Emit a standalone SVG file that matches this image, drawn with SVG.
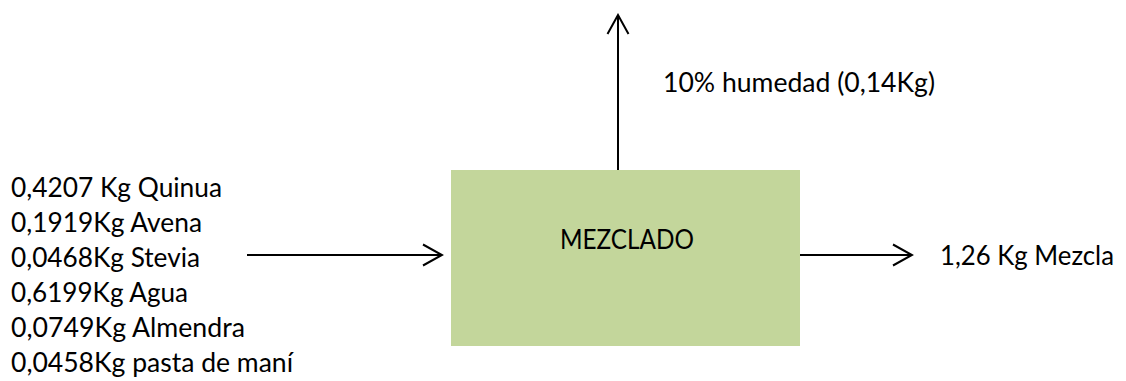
<svg xmlns="http://www.w3.org/2000/svg" width="1126" height="381" viewBox="0 0 1126 381">
  <defs>
    <style>
      .t { font-family: Lato, "Liberation Sans", sans-serif; font-size: 26px; fill: #000; }
      .c { stroke: #000; stroke-width: 2; fill: none; }
    </style>
    <marker id="open" markerUnits="userSpaceOnUse" viewBox="-22 -13 24 26" refX="0" refY="0" markerWidth="24" markerHeight="26" orient="auto">
      <path d="M-19,-10.5 L0,0 L-19,10.5" fill="none" stroke="#000" stroke-width="2"/>
    </marker>
  </defs>
  <rect width="1126" height="381" fill="#fff"/>
  <g id="inputs">
    <text class="t" x="11" y="197" textLength="211" lengthAdjust="spacingAndGlyphs">0,4207 Kg Quinua</text>
    <text class="t" x="11" y="232" textLength="191" lengthAdjust="spacingAndGlyphs">0,1919Kg Avena</text>
    <text class="t" x="11" y="267" textLength="189" lengthAdjust="spacingAndGlyphs">0,0468Kg Stevia</text>
    <text class="t" x="11" y="302" textLength="177" lengthAdjust="spacingAndGlyphs">0,6199Kg Agua</text>
    <text class="t" x="11" y="337" textLength="234" lengthAdjust="spacingAndGlyphs">0,0749Kg Almendra</text>
    <text class="t" x="11" y="372" textLength="282" lengthAdjust="spacingAndGlyphs">0,0458Kg pasta de maní</text>
  </g>
  <g id="mezclado">
    <rect x="451" y="170" width="349" height="176" fill="#C3D69B"/>
    <text class="t" x="560" y="249" textLength="134" lengthAdjust="spacingAndGlyphs">MEZCLADO</text>
  </g>
  <g id="humedad">
    <text class="t" x="663" y="92" textLength="272" lengthAdjust="spacingAndGlyphs">10% humedad (0,14Kg)</text>
  </g>
  <g id="salida">
    <text class="t" x="940" y="265" textLength="174" lengthAdjust="spacingAndGlyphs">1,26 Kg Mezcla</text>
  </g>
  <g id="connectors">
    <line class="c" x1="247" y1="255" x2="442" y2="255" marker-end="url(#open)"/>
    <line class="c" x1="800" y1="255" x2="912" y2="255" marker-end="url(#open)"/>
    <line class="c" x1="618" y1="170" x2="618" y2="15" marker-end="url(#open)"/>
  </g>
</svg>
